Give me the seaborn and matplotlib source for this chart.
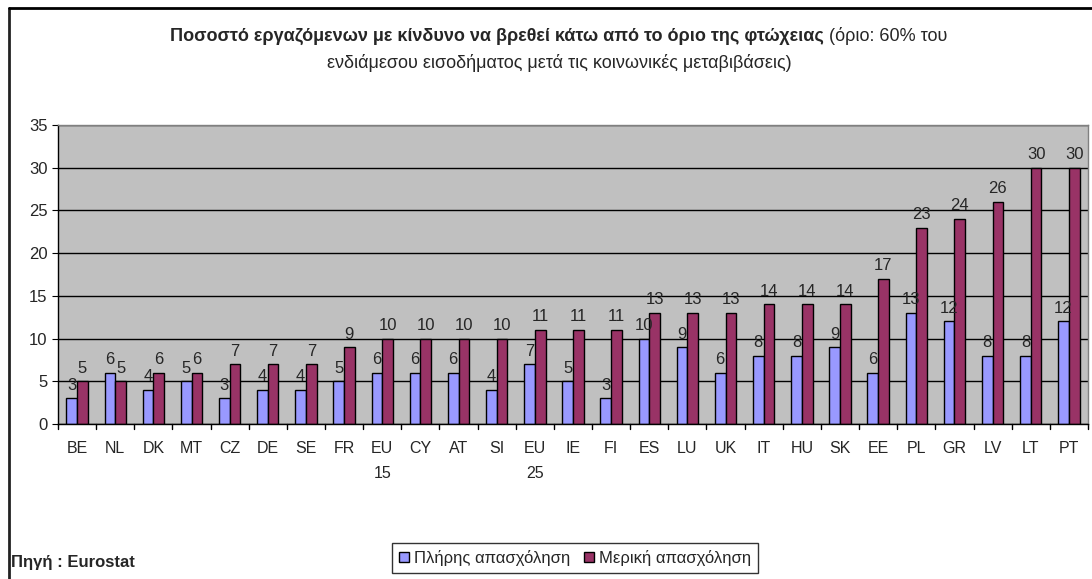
import pandas as pd
import matplotlib.pyplot as plt
import seaborn as sns

# Chart data
countries = ["BE", "NL", "DK", "MT", "CZ", "DE", "SE", "FR", "EU\n15", "CY", "AT", "SI",
             "EU\n25", "IE", "FI", "ES", "LU", "UK", "IT", "HU", "SK", "EE", "PL", "GR",
             "LV", "LT", "PT"]
full_time = [3, 6, 4, 5, 3, 4, 4, 5, 6, 6, 6, 4, 7, 5, 3, 10, 9, 6, 8, 8, 9, 6, 13, 12, 8, 8, 12]
part_time = [5, 5, 6, 6, 7, 7, 7, 9, 10, 10, 10, 10, 11, 11, 11, 13, 13, 13, 14, 14, 14, 17,
             23, 24, 26, 30, 30]
series = ["Πλήρης απασχόληση", "Μερική απασχόληση"]
colors = ["#9999FF", "#993366"]
y_ticks = [0, 5, 10, 15, 20, 25, 30, 35]

# Long format table for seaborn
df = pd.DataFrame({
    "country": countries * 2,
    "value": full_time + part_time,
    "series": [series[0]] * len(countries) + [series[1]] * len(countries),
})

sns.set_style("white")
plt.rcParams["font.family"] = ["Liberation Sans", "DejaVu Sans"]

fig = plt.figure(figsize=(10.92, 5.79), dpi=100)
ax = fig.add_axes([0.0531, 0.2677, 0.9432, 0.5164])
ax.set_facecolor("#C0C0C0")

sns.barplot(data=df, x="country", y="value", hue="series", order=countries,
            hue_order=series, palette=colors, width=0.56, edgecolor="black",
            linewidth=1, saturation=1, ax=ax, legend=True)

# Value labels on top of the bars
for container in ax.containers:
    ax.bar_label(container, fmt="%d", padding=4, fontsize=12)

ax.set_ylim(0, 35)
ax.set_xlim(-0.5, len(countries) - 0.5)
ax.set_yticks(y_ticks)
ax.yaxis.grid(True, color="black", linewidth=1)
ax.set_axisbelow(True)
ax.set_xlabel("")
ax.set_ylabel("")
ax.tick_params(axis="y", labelsize=12, length=4, direction="out", left=True, color="black")
ax.tick_params(axis="x", labelsize=11.5, length=0, pad=12)
for lbl in ax.get_xticklabels():
    lbl.set_linespacing(1.9)

# Tick marks between the categories, Excel style
for i in range(len(countries) + 1):
    ax.plot([i - 0.5, i - 0.5], [0, -0.6], color="black", linewidth=1, clip_on=False)

for side in ["left", "bottom"]:
    ax.spines[side].set_color("black")
    ax.spines[side].set_linewidth(1)
for side in ["top", "right"]:
    ax.spines[side].set_color("#808080")
    ax.spines[side].set_linewidth(1)

# Legend
handles, labels = ax.get_legend_handles_labels()
ax.legend_.remove()
fig.legend(handles, labels, loc="center", bbox_to_anchor=(575 / 1092, 1 - 558 / 579),
           ncol=2, frameon=True, fancybox=False, edgecolor="black", fontsize=12,
           handlelength=0.6, handleheight=0.6, handletextpad=0.3, columnspacing=0.8,
           borderpad=0.4)

# Title, bold part followed by normal part, centred together
renderer = fig.canvas.get_renderer()
t_bold = fig.text(0, 1 - 36 / 579,
                  "Ποσοστό εργαζόμενων με κίνδυνο να βρεθεί κάτω από το όριο της φτώχειας",
                  ha="left", va="center", fontsize=13, fontweight="bold")
t_norm = fig.text(0, 1 - 36 / 579, " (όριο: 60% του",
                  ha="left", va="center", fontsize=13)
w_bold = t_bold.get_window_extent(renderer).width
w_norm = t_norm.get_window_extent(renderer).width
x0 = 559 - (w_bold + w_norm) / 2
t_bold.set_x(x0 / 1092)
t_norm.set_x((x0 + w_bold) / 1092)
fig.text(559 / 1092, 1 - 63 / 579,
         "ενδιάμεσου εισοδήματος μετά τις κοινωνικές μεταβιβάσεις)",
         ha="center", va="center", fontsize=13)

# Source note
fig.text(11 / 1092, 1 - 562 / 579, "Πηγή : Eurostat", ha="left", va="center",
         fontsize=12, fontweight="bold")

# Outer chart border
fig.add_artist(plt.Line2D([9 / 1092, 9 / 1092], [0, 1 - 8 / 579], color="#222222",
                          linewidth=2, transform=fig.transFigure))
fig.add_artist(plt.Line2D([9 / 1092, 1], [1 - 8 / 579, 1 - 8 / 579], color="black",
                          linewidth=2, transform=fig.transFigure))

fig.savefig("out.png", dpi=100)
